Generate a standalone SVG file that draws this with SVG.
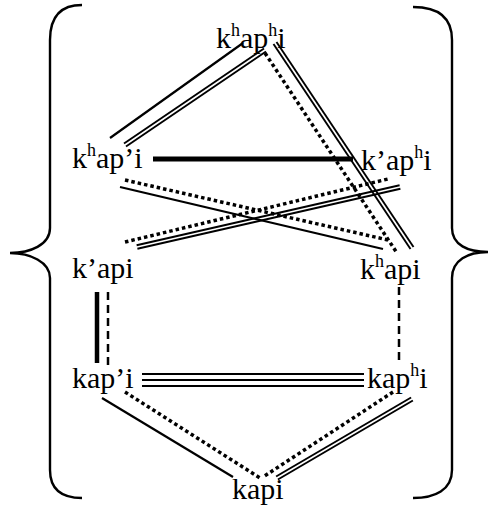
<svg xmlns="http://www.w3.org/2000/svg" width="491" height="508" viewBox="0 0 491 508">
<style>
text{font-family:"Liberation Serif","Times New Roman",serif;font-size:30px;fill:#000}
.sup{font-size:18px}
.s{stroke:#000;stroke-width:2.2;fill:none}
.d{stroke:#000;stroke-width:1.9;fill:none}
.thick{stroke:#000;stroke-width:5;fill:none}
.dot{stroke:#000;stroke-width:3.5;stroke-dasharray:3.5 3;fill:none}
.dash{stroke:#000;stroke-width:2.5;stroke-dasharray:8 5;fill:none}
.brace{stroke:#000;stroke-width:2.4;fill:none}
</style>
<rect width="491" height="508" fill="#fff"/>
<g id="braces">
<path class="brace" d="M82,5 C62,5 50,15 50,40 L50,228 C50,245 30,253 10,253 C30,253 50,262 50,278 L50,470 C50,490 62,498 82,498"/>
<path class="brace" d="M413,7 C435,7 452,15 452,40 L452,228 C452,245 468,252 488,252 C468,252 452,260 452,278 L452,470 C452,490 435,498 413,498"/>
</g>
<g id="connectors">
<line class="s" x1="110" y1="138" x2="243" y2="43"/>
<line class="d" x1="124" y1="143.5" x2="264" y2="48.5"/>
<line class="d" x1="126" y1="146.5" x2="266" y2="51.5"/>
<line class="d" x1="273.5" y1="44" x2="410.5" y2="249"/>
<line class="d" x1="276.5" y1="42" x2="413.5" y2="247"/>
<line class="dot" x1="265" y1="53" x2="397" y2="253"/>
<line class="thick" x1="153" y1="159" x2="353" y2="159"/>
<line class="dot" x1="125" y1="180" x2="388" y2="240"/>
<line class="s" x1="120" y1="187" x2="383" y2="249"/>
<line class="dot" x1="125" y1="242" x2="388" y2="179"/>
<line class="d" x1="136.6" y1="245.25" x2="399.6" y2="185.25"/>
<line class="d" x1="137.4" y1="248.75" x2="400.4" y2="188.75"/>
<line class="thick" x1="97" y1="292" x2="97" y2="363" style="stroke-width:4.5"/>
<line class="dash" x1="108" y1="292" x2="108" y2="366"/>
<line class="dash" x1="399" y1="287" x2="399" y2="362"/>
<line class="d" x1="142" y1="374" x2="364" y2="374"/>
<line class="d" x1="142" y1="380" x2="364" y2="380"/>
<line class="d" x1="142" y1="386" x2="364" y2="386"/>
<line class="s" x1="102" y1="398" x2="233" y2="477"/>
<line class="dot" x1="125" y1="392" x2="260" y2="478"/>
<line class="dot" x1="393" y1="392" x2="263" y2="477"/>
<line class="d" x1="411.1" y1="397.45" x2="276.1" y2="476.45"/>
<line class="d" x1="412.9" y1="400.55" x2="277.9" y2="479.55"/>
</g>
<g id="n-khaphi"><text x="216" y="48">k<tspan class="sup" dy="-12">h</tspan><tspan dy="12">ap</tspan><tspan class="sup" dy="-12">h</tspan><tspan dy="12">i</tspan></text></g>
<g id="n-khapi-glott"><text x="72" y="168">k<tspan class="sup" dy="-12">h</tspan><tspan dy="12">ap’i</tspan></text></g>
<g id="n-kaphi-glott"><text x="361" y="170">k’ap<tspan class="sup" dy="-12">h</tspan><tspan dy="12">i</tspan></text></g>
<g id="n-kapi-glott"><text x="72" y="278">k’api</text></g>
<g id="n-khapi"><text x="360" y="279">k<tspan class="sup" dy="-12">h</tspan><tspan dy="12">api</tspan></text></g>
<g id="n-kap-i"><text x="72" y="388">kap’i</text></g>
<g id="n-kaphi"><text x="367" y="388">kap<tspan class="sup" dy="-12">h</tspan><tspan dy="12">i</tspan></text></g>
<g id="n-kapi"><text x="232" y="499">kapi</text></g>
</svg>
